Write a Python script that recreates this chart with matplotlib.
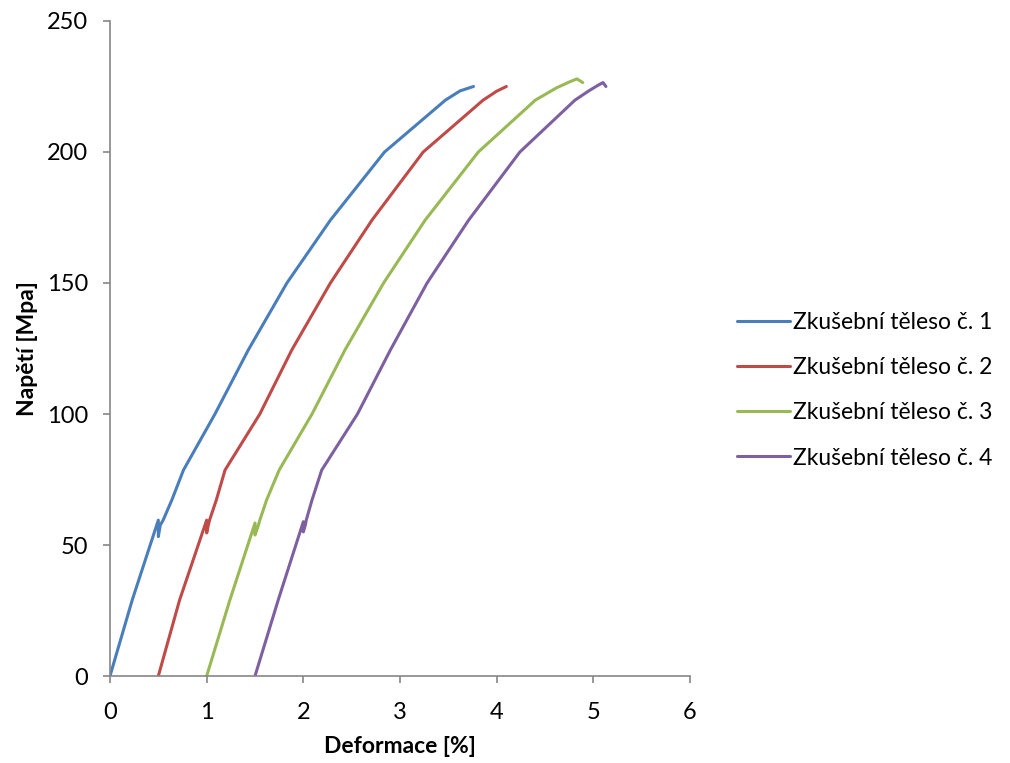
"""Stress-strain curves of four test specimens."""
import matplotlib
matplotlib.use("Agg")
import matplotlib.pyplot as plt

plt.rcParams["font.family"] = ["Lato", "DejaVu Sans"]

# values
x_1 = [0, 0.23, 0.5, 0.5, 0.52, 0.55, 0.64, 0.76, 1.086, 1.43, 1.83,
       2.28, 2.84, 3.47, 3.62, 3.76]
y_1 = [0, 29, 59.5, 53.2, 57.6, 59.5, 67.2, 78.6, 100, 124.4, 150,
       174, 200, 219.8, 223.3, 225]

x_2 = [0.5, 0.72, 1.0, 1.0, 1.02, 1.03, 1.10, 1.19, 1.55, 1.88, 2.28,
       2.71, 3.24, 3.86, 4.0, 4.1]
y_2 = [0, 29, 59.5, 54.6, 58, 59.5, 67.2, 78.6, 100, 124.4, 150,
       174, 200, 219.8, 223.2, 225]

x_3 = [1.0, 1.24, 1.5, 1.5, 1.53, 1.55, 1.62, 1.75, 2.09, 2.43, 2.83,
       3.26, 3.81, 4.40, 4.62, 4.75, 4.83, 4.89]
y_3 = [0, 29, 58.4, 53.8, 57, 59.5, 67.2, 78.6, 100, 124.4, 150,
       174, 200, 219.8, 224.5, 226.7, 227.9, 226.5]

x_4 = [1.5, 1.74, 2.0, 2.0, 2.02, 2.03, 2.09, 2.19, 2.56, 2.90, 3.28,
       3.71, 4.24, 4.81, 4.96, 5.05, 5.10, 5.13]
y_4 = [0, 29, 58.9, 55, 57.5, 59.5, 67.2, 78.6, 100, 124.4, 150,
       174, 200, 219.8, 223.5, 225.5, 226.5, 225]

labels = ["Zkušební těleso č. 1", "Zkušební těleso č. 2",
          "Zkušební těleso č. 3", "Zkušební těleso č. 4"]
colors = ["#4A7EBB", "#BE4B48", "#98B954", "#7D60A0"]

fig = plt.figure(figsize=(10.1, 7.63), dpi=100)
ax = fig.add_axes([0.1089, 0.114, 0.5743, 0.8585])

for xs, ys, lab, col in zip([x_1, x_2, x_3, x_4], [y_1, y_2, y_3, y_4],
                            labels, colors):
    ax.plot(xs, ys, color=col, lw=2.2, label=lab,
            solid_joinstyle="round", solid_capstyle="round")

ax.set_xlim(0, 6)
ax.set_ylim(0, 250)
ax.set_xticks(range(0, 7))
ax.set_yticks(range(0, 251, 50))

for side in ("top", "right"):
    ax.spines[side].set_visible(False)
for side in ("left", "bottom"):
    ax.spines[side].set_color("#868686")
    ax.spines[side].set_linewidth(1.2)
ax.tick_params(direction="out", length=5, width=1.2, color="#868686",
               labelsize=17)
ax.tick_params(axis="x", pad=14)
ax.tick_params(axis="y", pad=11)

ax.set_xlabel("Deformace [%]", fontsize=16.5, fontweight="bold", labelpad=9)
ax.set_ylabel("Napětí [Mpa]", fontsize=16.5, fontweight="bold", labelpad=6)

ax.legend(loc="center left", bbox_to_anchor=(1.046, 0.436), frameon=False,
          fontsize=16.5, handlelength=2.3, handletextpad=0.15,
          labelspacing=1.05)

fig.savefig("out.png", dpi=100)
